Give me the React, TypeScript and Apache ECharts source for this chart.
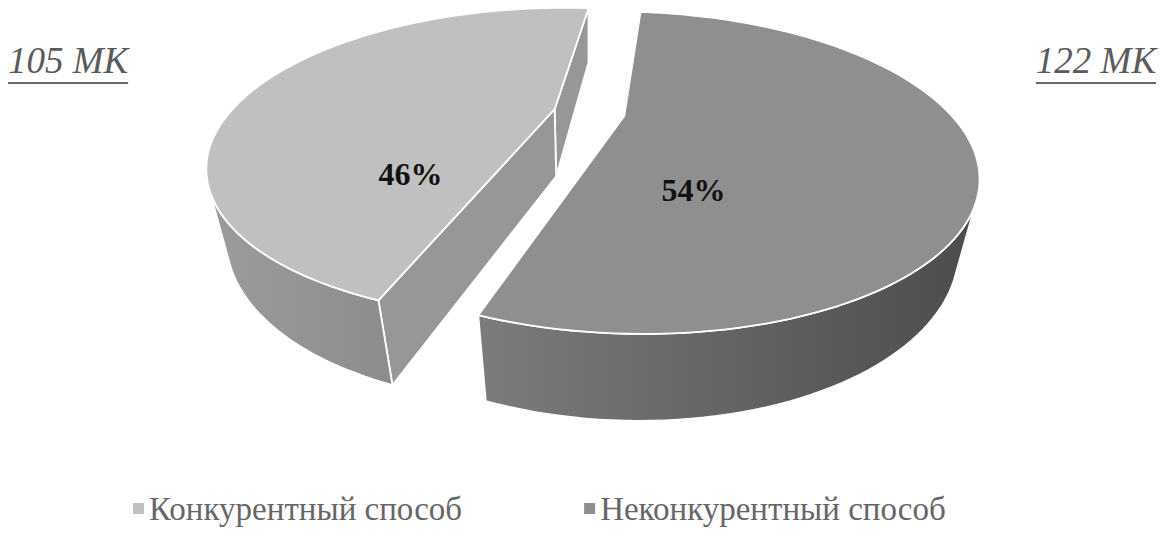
import React, { useEffect, useRef } from "react";
import * as echarts from "echarts";

// ---- data ----
const categories = ["Конкурентный способ", "Неконкурентный способ"];
const contractCounts = [105, 122];
const countUnit = "МК";

// ---- styling ----
const topColors = ["#c0c0c0", "#8f8f8f"];
const wallColors: string[][] = [
  ["#9c9c9c", "#8c8c8c"],
  ["#7c7c7c", "#4c4c4c"],
];
const cutColors = ["#979797", "#707070"];
const labelFront = [0.59, 0.74];
const labelRadius = [0.55, 0.47];

// 3D view parameters (fractions of chart size / world units)
const VIEW = {
  cx: 0.504,
  cy: 0.331,
  scale: 0.265,
  tilt: 30,
  dist: 2.6,
  height: 0.24,
  explode: 0.11,
  startAngle: 84,
};

const DEG = Math.PI / 180;
const total = contractCounts.reduce((a, b) => a + b, 0);

function sliceAngles(i: number) {
  let a = VIEW.startAngle;
  for (let k = 0; k < i; k++) a += (contractCounts[k] / total) * 360;
  return [a, a + (contractCounts[i] / total) * 360];
}

function measure(text: string, font: string) {
  const c = document.createElement("canvas").getContext("2d")!;
  c.font = font;
  return c.measureText(text).width;
}

function makeRenderItem(i: number) {
  return (params: any, api: any) => {
    const value = api.value(0) as number;
    const W = api.getWidth();
    const Hh = api.getHeight();
    const CX = W * VIEW.cx;
    const CY = Hh * VIEW.cy;
    const S = W * VIEW.scale;
    const ta = VIEW.tilt * DEG;
    const ca = Math.cos(ta);
    const sa = Math.sin(ta);
    const D = VIEW.dist;
    const depth = (y: number, z: number) => z * ca - y * sa;
    const proj = (x: number, y: number, z: number) => {
      const yc = y * ca + z * sa;
      const d = depth(y, z);
      const s = D / (D + d);
      return [CX + S * x * s, CY - S * yc * s];
    };
    const [a1, a2] = sliceAngles(i);
    const t1 = a1 * DEG;
    const t2 = a2 * DEG;
    const mid = (t1 + t2) / 2;
    const ex = VIEW.explode * Math.cos(mid);
    const ez = VIEW.explode * Math.sin(mid);
    const h = VIEW.height;
    const camZ = -D * ca;
    const rim = (t: number, y: number) =>
      proj(ex + Math.cos(t), y, ez + Math.sin(t));

    const N = 120;
    const ts: number[] = [];
    for (let k = 0; k <= N; k++) ts.push(t1 + ((t2 - t1) * k) / N);

    const faces: { d: number; shape: any; fill: any }[] = [];

    // outer wall, front-facing runs
    const visible = (t: number) => {
      const px = ex + Math.cos(t);
      const pz = ez + Math.sin(t);
      return Math.cos(t) * (0 - px) + Math.sin(t) * (camZ - pz) > 0;
    };
    let run: number[] = [];
    const flush = () => {
      if (run.length > 1) {
        const top = run.map((t) => rim(t, h));
        const bot = run.map((t) => rim(t, 0)).reverse();
        const dm =
          run.reduce((s, t) => s + depth(h / 2, ez + Math.sin(t)), 0) /
          run.length;
        const wc = wallColors[i];
        faces.push({
          d: dm,
          shape: [...top, ...bot],
          fill: new echarts.graphic.LinearGradient(
            0,
            0,
            1,
            0,
            [
              { offset: 0, color: wc[0] },
              { offset: 1, color: wc[1] },
            ],
            false
          ),
        });
      }
      run = [];
    };
    ts.forEach((t) => {
      if (visible(t)) run.push(t);
      else flush();
    });
    flush();

    // radial cut faces
    const radial = (t: number, nx: number, nz: number) => {
      const pmx = ex + Math.cos(t) / 2;
      const pmz = ez + Math.sin(t) / 2;
      const dot = nx * (0 - pmx) + nz * (camZ - pmz);
      if (dot <= 0) return;
      faces.push({
        d: depth(h / 2, pmz),
        shape: [proj(ex, h, ez), rim(t, h), rim(t, 0), proj(ex, 0, ez)],
        fill: cutColors[i],
      });
    };
    radial(t1, Math.sin(t1), -Math.cos(t1));
    radial(t2, -Math.sin(t2), Math.cos(t2));

    faces.sort((a, b) => b.d - a.d);

    const children: any[] = faces.map((f) => ({
      type: "polygon",
      shape: { points: f.shape },
      style: { fill: f.fill, stroke: "#ffffff", lineWidth: 1.8, lineJoin: "round" },
    }));

    const topPts = [proj(ex, h, ez), ...ts.map((t) => rim(t, h))];
    children.push({
      type: "polygon",
      shape: { points: topPts },
      style: {
        fill: topColors[i],
        stroke: "#ffffff",
        lineWidth: 1.8,
        lineJoin: "round",
      },
    });

    // percentage label
    const front = 270 * DEG;
    let m = mid;
    while (m - front > Math.PI) m -= 2 * Math.PI;
    while (front - m > Math.PI) m += 2 * Math.PI;
    const lt = m + (front - m) * labelFront[i];
    const lr = labelRadius[i];
    const lp = proj(ex + lr * Math.cos(lt), h, ez + lr * Math.sin(lt));
    const pct = Math.round((value / total) * 100);
    children.push({
      type: "text",
      x: lp[0],
      y: lp[1],
      style: {
        text: pct + "%",
        fill: "#111111",
        font: 'bold 32px "Liberation Serif"',
        align: "center",
        verticalAlign: "middle",
      },
    });

    return { type: "group", children };
  };
}

export default function App() {
  const ref = useRef<HTMLDivElement>(null);
  useEffect(() => {
    const el = ref.current!;
    const chart = echarts.init(el, null, { renderer: "svg" });
    const annFont = 'italic 37px "Liberation Serif"';
    const annTexts = contractCounts.map((c) => `${c} ${countUnit}`);
    const annW = annTexts.map((t) => measure(t, annFont));
    const annGroup = (idx: number, pos: any) => ({
      type: "group",
      ...pos,
      children: [
        {
          type: "text",
          x: 0,
          y: 0,
          style: {
            text: annTexts[idx],
            font: annFont,
            fill: "#5a5a5a",
          },
        },
        {
          type: "rect",
          shape: { x: 0, y: 40, width: annW[idx], height: 2 },
          style: { fill: "#6a6a6a" },
        },
      ],
    });
    chart.setOption({
      animation: false,
      backgroundColor: "#ffffff",
      legend: {
        data: categories,
        left: 128,
        top: 487,
        itemGap: 122,
        icon: "rect",
        itemWidth: 11,
        itemHeight: 11,
        textStyle: {
          fontFamily: "Liberation Serif",
          fontSize: 33,
          color: "#666666",
        },
      },
      graphic: [
        annGroup(0, { left: 8, top: 42 }),
        annGroup(1, { right: 13, top: 42 }),
      ],
      series: categories.map((name, i) => ({
        type: "custom",
        name,
        coordinateSystem: "none",
        color: topColors[i],
        itemStyle: { color: topColors[i] },
        renderItem: makeRenderItem(i),
        data: [[contractCounts[i]]],
        silent: true,
      })),
    });
    return () => chart.dispose();
  }, []);
  return (
    <div
      ref={ref}
      style={{ position: "fixed", left: 0, top: 0, width: 1169, height: 544 }}
    />
  );
}
